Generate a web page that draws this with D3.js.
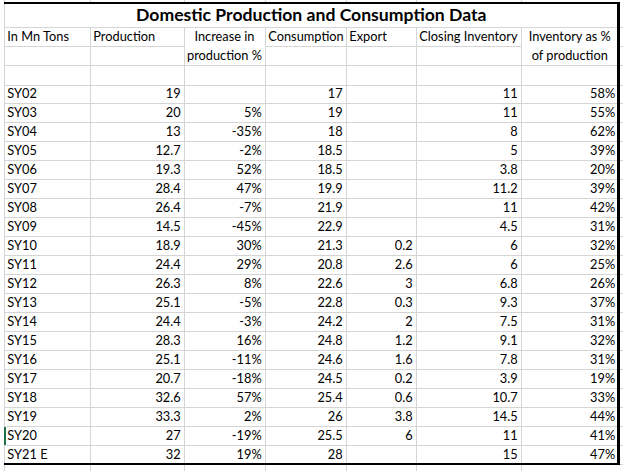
<!DOCTYPE html>
<html><head><meta charset="utf-8">
<script src="https://cdn.jsdelivr.net/npm/d3@7"></script>
<style>html,body{margin:0;padding:0;background:#fff}svg{display:block}</style>
</head><body>
<svg id="c" width="623" height="471"></svg>
<script>
// ---- data ----
const title = "Domestic Production and Consumption Data";
const headerLine1 = ["In Mn Tons", "Production", "Increase in", "Consumption", "Export", "Closing Inventory", "Inventory as %"];
const headerLine2 = ["", "", "production %", "", "", "", "of production"];
const years = ["SY02","SY03","SY04","SY05","SY06","SY07","SY08","SY09","SY10","SY11","SY12","SY13","SY14","SY15","SY16","SY17","SY18","SY19","SY20","SY21 E"];
const production = [19,20,13,12.7,19.3,28.4,26.4,14.5,18.9,24.4,26.3,25.1,24.4,28.3,25.1,20.7,32.6,33.3,27,32];
const increasePct = [null,5,-35,-2,52,47,-7,-45,30,29,8,-5,-3,16,-11,-18,57,2,-19,19];
const consumption = [17,19,18,18.5,18.5,19.9,21.9,22.9,21.3,20.8,22.6,22.8,24.2,24.8,24.6,24.5,25.4,26,25.5,28];
const exportVals = [null,null,null,null,null,null,null,null,0.2,2.6,3,0.3,2,1.2,1.6,0.2,0.6,3.8,6,null];
const closingInventory = [11,11,8,5,3.8,11.2,11,4.5,6,6,6.8,9.3,7.5,9.1,7.8,3.9,10.7,14.5,11,15];
const inventoryPct = [58,55,62,39,20,39,42,31,32,25,26,37,31,32,31,19,33,44,41,47];

// ---- layout ----
const W = 623, H = 471;
const colEdges = [4, 90, 184, 265, 346, 416, 521, 618.5];
const colKeys = ["year","prod","inc","cons","exp","inv","pct"];
const xLeft = d3.scaleOrdinal().domain(colKeys).range(colEdges.slice(0, 7));
const xRight = d3.scaleOrdinal().domain(colKeys).range(colEdges.slice(1));
const headerY = [3, 27, 46, 65.4, 84.5];
const tableBottom = 464;
const y = d3.scaleBand().domain(years).range([headerY[4], tableBottom]);

const font = "Lato, 'Open Sans', sans-serif";
const fs = 12.8;
const grid = "#d5d5d5";

const svg = d3.select("#c");
svg.append("rect").attr("width", W).attr("height", H).attr("fill", "#fff");

const g = svg.append("g").attr("shape-rendering", "crispEdges");

// horizontal gridlines
const hLines = [];
hLines.push({y: headerY[1], x1: colEdges[0], x2: W});
["year","prod","cons","exp","inv"].forEach(k => hLines.push({y: headerY[2], x1: xLeft(k), x2: xRight(k)}));
hLines.push({y: headerY[2], x1: colEdges[7], x2: W});
hLines.push({y: headerY[3], x1: colEdges[0], x2: W});
years.forEach(yr => hLines.push({y: y(yr), x1: colEdges[0], x2: W}));
hLines.push({y: tableBottom, x1: colEdges[7], x2: W});
g.selectAll("line.h").data(hLines).join("line").attr("class","h")
  .attr("x1", d => d.x1).attr("x2", d => d.x2)
  .attr("y1", d => Math.round(d.y) + 0.5).attr("y2", d => Math.round(d.y) + 0.5)
  .attr("stroke", grid).attr("stroke-width", 1);

// vertical gridlines (hidden in merged title row)
const vLines = [];
colEdges.slice(0, 7).forEach((x, i) => {
  if (i === 0) vLines.push({x, y1: 0, y2: H});
  else { vLines.push({x, y1: 0, y2: headerY[0]}); vLines.push({x, y1: headerY[1], y2: H}); }
});
g.selectAll("line.v").data(vLines).join("line").attr("class","v")
  .attr("x1", d => Math.round(d.x) + 0.5).attr("x2", d => Math.round(d.x) + 0.5)
  .attr("y1", d => d.y1).attr("y2", d => d.y2)
  .attr("stroke", grid).attr("stroke-width", 1);

// thick borders (top, right, bottom)
const bw = 2.6;
g.append("line").attr("x1", colEdges[0]).attr("x2", colEdges[7] + bw/2).attr("y1", headerY[0]).attr("y2", headerY[0]).attr("stroke","#000").attr("stroke-width", bw);
g.append("line").attr("x1", colEdges[0]).attr("x2", colEdges[7] + bw/2).attr("y1", tableBottom).attr("y2", tableBottom).attr("stroke","#000").attr("stroke-width", bw);
g.append("line").attr("x1", colEdges[7]).attr("x2", colEdges[7]).attr("y1", headerY[0] - bw/2).attr("y2", tableBottom + bw/2).attr("stroke","#000").attr("stroke-width", bw);

// selected-row indicator (green)
g.append("rect").attr("x", colEdges[0]).attr("y", y("SY20") + 1).attr("width", 2).attr("height", y.bandwidth() - 1).attr("fill", "#217346");

// title
svg.append("text").attr("x", (colEdges[0] + colEdges[7]) / 2).attr("y", (headerY[0] + headerY[1]) / 2 + 5.9)
  .attr("text-anchor", "middle").attr("font-family", font).attr("font-weight", "bold").attr("font-size", 17.6)
  .attr("fill", "#000").text(title);

// headers
const pad = 3.3;
const centered = new Set(["inc","pct"]);
const hdr = colKeys.map((k, i) => ({k, l1: headerLine1[i], l2: headerLine2[i]}));
const hx = d => centered.has(d.k) ? (xLeft(d.k) + xRight(d.k)) / 2 : xLeft(d.k) + pad;
const ha = d => centered.has(d.k) ? "middle" : "start";
svg.selectAll("text.h1").data(hdr).join("text").attr("class","h1")
  .attr("x", hx).attr("text-anchor", ha).attr("y", (headerY[1] + headerY[2]) / 2 + 4.3)
  .attr("font-family", font).attr("font-size", fs).attr("fill","#000").text(d => d.l1);
svg.selectAll("text.h2").data(hdr.filter(d => d.l2)).join("text").attr("class","h2")
  .attr("x", hx).attr("text-anchor", ha).attr("y", (headerY[2] + headerY[3]) / 2 + 4.3)
  .attr("font-family", font).attr("font-size", fs).attr("fill","#000").text(d => d.l2);

// body
const num = v => v == null ? "" : String(v);
const pctf = v => v == null ? "" : v + "%";
const rows = years.map((yr, i) => ({yr, vals: {
  prod: num(production[i]), inc: pctf(increasePct[i]), cons: num(consumption[i]),
  exp: num(exportVals[i]), inv: num(closingInventory[i]), pct: pctf(inventoryPct[i])}}));
const rowG = svg.selectAll("g.row").data(rows).join("g").attr("class","row")
  .attr("transform", d => `translate(0,${y(d.yr) + y.bandwidth() / 2 + 4.3})`)
  .attr("font-family", font).attr("font-size", fs).attr("fill", "#000");
rowG.append("text").attr("x", xLeft("year") + pad).text(d => d.yr);
colKeys.slice(1).forEach(k => {
  rowG.append("text").attr("x", xRight(k) - pad).attr("text-anchor", "end").text(d => d.vals[k]);
});
</script>
</body></html>
